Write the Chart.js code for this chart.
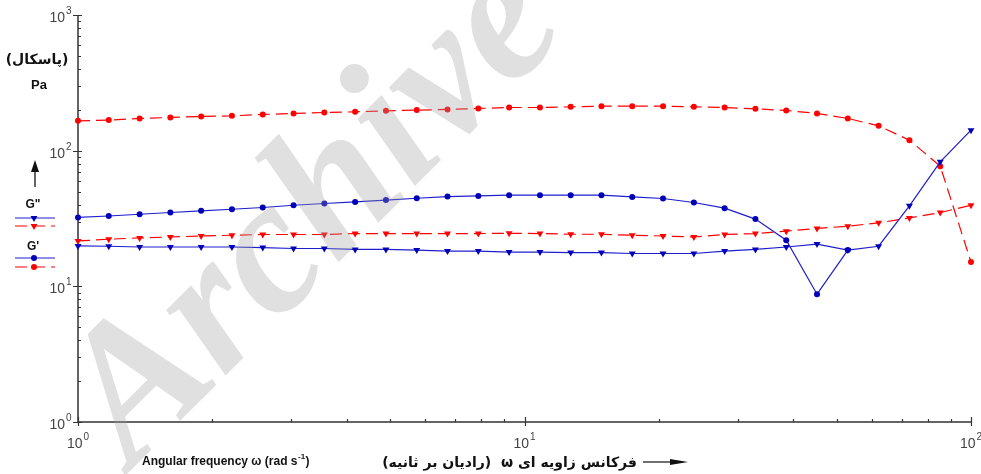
<!DOCTYPE html>
<html>
<head>
<meta charset="utf-8">
<script src="https://cdn.jsdelivr.net/npm/chart.js@4.4.0/dist/chart.umd.min.js"></script>
<style>
html, body { margin: 0; padding: 0; background: #fff; }
#wrap { position: relative; width: 981px; height: 474px; }
</style>
</head>
<body>
<div id="wrap"><canvas id="chart" width="981" height="474"></canvas></div>
<script>
// angular frequency (rad/s)
const freq = [1, 1.172, 1.374, 1.610, 1.887, 2.212, 2.593, 3.039, 3.562, 4.175,
    4.894, 5.736, 6.723, 7.880, 9.237, 10.83, 12.69, 14.87, 17.43, 20.43,
    23.95, 28.07, 32.90, 38.57, 45.20, 52.98, 62.10, 72.79, 85.32, 100];

// G' and G'' (Pa), blue = solid, red = dashed
const gPrimeBlue = [32.2, 33.0, 34.0, 35.0, 36.0, 37.0, 38.1, 39.6, 40.8, 41.9,
    43.2, 44.6, 45.9, 46.4, 47.0, 47.0, 47.0, 47.0, 45.6, 44.4,
    41.5, 37.7, 31.3, 21.9, 8.75, 18.5, null, null, null, null];
const gDoubleBlue = [19.86, 19.75, 19.5, 19.5, 19.5, 19.5, 19.3, 19.0, 19.0, 18.7,
    18.7, 18.5, 18.2, 18.2, 17.9, 17.9, 17.75, 17.75, 17.46, 17.46,
    17.46, 18.2, 18.7, 19.5, 20.5, 18.5, 19.75, 39.2, 82.7, 141.6];
const gPrimeRed = [165.9, 168, 172.8, 175.7, 178.7, 180.6, 184.9, 188, 191.2, 193.2,
    196.6, 199, 201.4, 204.7, 208, 208, 210.4, 212.9, 212.9, 212.9,
    210.4, 208, 203.4, 197.9, 188.1, 172.8, 152.4, 119.5, 76.9, 15.1];
const gDoubleRed = [21.6, 22.25, 22.75, 23.1, 23.5, 23.8, 24.1, 24.1, 24.1, 24.5,
    24.5, 24.5, 24.5, 24.5, 24.6, 24.5, 24.2, 24.2, 23.8, 23.5,
    23.1, 24.1, 24.5, 25.5, 26.7, 27.75, 29.4, 31.9, 35.0, 39.6];

const xTickValues = [1, 10, 100];
const yTickValues = [1, 10, 100, 1000];

const BLUE = 'rgb(30,30,205)';
const BLUE_PT = 'rgb(0,0,185)';
const RED = 'rgb(255,0,0)';

function toPoints(ys) {
    return freq.map((f, i) => ({ x: f, y: ys[i] }));
}

function series(label, ys, color, ptColor, dashed, style) {
    return {
        label: label,
        data: toPoints(ys),
        borderColor: color,
        backgroundColor: ptColor,
        pointBackgroundColor: ptColor,
        pointBorderColor: ptColor,
        pointBorderWidth: 0,
        pointStyle: style,
        pointRotation: style === 'triangle' ? 180 : 0,
        pointRadius: style === 'triangle' ? 4 : 3,
        borderWidth: 1.2,
        borderDash: dashed ? [12, 6] : [],
        tension: 0,
        clip: false,
        spanGaps: false
    };
}

function drawPow(ctx, exp, x, y, align) {
    ctx.font = '14px "Liberation Sans", Arial, sans-serif';
    const w1 = ctx.measureText('10').width;
    ctx.font = '10px "Liberation Sans", Arial, sans-serif';
    const w2 = ctx.measureText(String(exp)).width;
    let left = align === 'center' ? x - (w1 + w2 + 1) / 2 : x - w1;
    ctx.textAlign = 'left';
    ctx.font = '14px "Liberation Sans", Arial, sans-serif';
    ctx.fillText('10', left, y);
    ctx.font = '10px "Liberation Sans", Arial, sans-serif';
    ctx.fillText(String(exp), left + w1 + 1, y - 8);
}

const axesPlugin = {
    id: 'axes',
    beforeDatasetsDraw(chart) {
        const { ctx, chartArea: a, scales: { x, y } } = chart;
        ctx.save();
        ctx.strokeStyle = '#333';
        ctx.lineWidth = 1.5;
        ctx.beginPath();
        ctx.moveTo(a.left, a.top);
        ctx.lineTo(a.left, a.bottom);
        ctx.lineTo(a.right, a.bottom);
        ctx.stroke();

        ctx.lineWidth = 1.2;
        ctx.beginPath();
        for (let d = 0; d < 2; d++) {
            for (let m = 1; m < 10; m++) {
                const px = Math.round(x.getPixelForValue(m * Math.pow(10, d))) + 0.5;
                ctx.moveTo(px, a.bottom + (m === 1 ? 4 : 0));
                ctx.lineTo(px, a.bottom - (m === 1 ? 5 : 3));
            }
        }
        for (let d = 0; d < 3; d++) {
            for (let m = 1; m < 10; m++) {
                const py = Math.round(y.getPixelForValue(m * Math.pow(10, d))) + 0.5;
                ctx.moveTo(a.left - (m === 1 ? 5 : 0), py);
                ctx.lineTo(a.left + (m === 1 ? 4 : 3), py);
            }
        }
        const xEnd = Math.round(x.getPixelForValue(100)) + 0.5;
        ctx.moveTo(xEnd, a.bottom + 4); ctx.lineTo(xEnd, a.bottom - 5);
        const yEnd = Math.round(y.getPixelForValue(1000)) + 0.5;
        ctx.moveTo(a.left - 5, yEnd); ctx.lineTo(a.left + 4, yEnd);
        ctx.stroke();

        ctx.fillStyle = '#444';
        ctx.textBaseline = 'alphabetic';
        xTickValues.forEach(v => drawPow(ctx, Math.round(Math.log10(v)), x.getPixelForValue(v), a.bottom + 26, 'center'));
        yTickValues.forEach(v => drawPow(ctx, Math.round(Math.log10(v)), a.left - 13, y.getPixelForValue(v) + 7, 'right'));
        ctx.restore();
    },
    afterDraw(chart) {
        const ctx = chart.ctx;
        const sets = chart.data.datasets;
        ctx.save();
        ctx.fillStyle = '#111';
        ctx.textAlign = 'center';
        ctx.textBaseline = 'middle';

        // y-axis unit and arrow
        ctx.font = 'bold 14px "DejaVu Sans", sans-serif';
        ctx.direction = 'rtl';
        ctx.fillText('(پاسکال)', 37, 60);
        ctx.direction = 'ltr';
        ctx.font = 'bold 13px "Liberation Sans", Arial, sans-serif';
        ctx.fillText('Pa', 39, 85);
        ctx.strokeStyle = '#111';
        ctx.lineWidth = 1.3;
        ctx.beginPath(); ctx.moveTo(35, 187); ctx.lineTo(35, 170); ctx.stroke();
        ctx.beginPath(); ctx.moveTo(31, 172); ctx.lineTo(39, 172); ctx.lineTo(35, 160); ctx.closePath(); ctx.fill();

        // legend
        ctx.font = 'bold 12px "Liberation Sans", Arial, sans-serif';
        ctx.fillText('G"', 33, 205);
        ctx.fillText("G'", 33, 247);
        const rows = [[sets[1], 218], [sets[3], 226], [sets[0], 258], [sets[2], 267]];
        rows.forEach(([ds, ly]) => {
            ctx.strokeStyle = ds.borderColor;
            ctx.lineWidth = ds.borderWidth;
            ctx.setLineDash(ds.borderDash);
            ctx.beginPath(); ctx.moveTo(15, ly); ctx.lineTo(55, ly); ctx.stroke();
            ctx.setLineDash([]);
            ctx.fillStyle = ds.pointBackgroundColor;
            ctx.strokeStyle = ds.pointBorderColor;
            Chart.helpers.drawPoint(ctx, {
                pointStyle: ds.pointStyle, rotation: ds.pointRotation,
                radius: ds.pointRadius, borderWidth: 0
            }, 34, ly);
        });

        // x-axis titles
        ctx.fillStyle = '#111';
        ctx.textAlign = 'left';
        ctx.textBaseline = 'alphabetic';
        ctx.font = 'bold 12px "Liberation Sans", Arial, sans-serif';
        let tx = 142;
        const part1 = 'Angular frequency ω (rad s';
        ctx.fillText(part1, tx, 465);
        tx += ctx.measureText(part1).width;
        ctx.font = 'bold 8px "Liberation Sans", Arial, sans-serif';
        ctx.fillText('-1', tx + 0.5, 459);
        tx += ctx.measureText('-1').width + 1;
        ctx.font = 'bold 12px "Liberation Sans", Arial, sans-serif';
        ctx.fillText(')', tx, 465);

        ctx.font = 'bold 14px "DejaVu Sans", sans-serif';
        ctx.direction = 'rtl';
        ctx.textAlign = 'right';
        ctx.fillText('فرکانس زاویه ای ω  (رادیان بر ثانیه)', 637, 467);
        ctx.direction = 'ltr';
        ctx.strokeStyle = '#111';
        ctx.lineWidth = 1.2;
        ctx.beginPath(); ctx.moveTo(643, 462); ctx.lineTo(672, 462); ctx.stroke();
        ctx.beginPath(); ctx.moveTo(670, 459); ctx.lineTo(688, 462); ctx.lineTo(670, 465); ctx.closePath(); ctx.fill();

        // watermark
        ctx.translate(351, 250);
        ctx.rotate(-Math.PI / 4);
        ctx.textAlign = 'center';
        ctx.font = 'bold italic 192px "Liberation Serif", serif';
        ctx.fillStyle = 'rgba(160,160,160,0.32)';
        ctx.fillText('Archive', 0, 0);
        ctx.restore();
    }
};

new Chart(document.getElementById('chart'), {
    type: 'line',
    data: {
        datasets: [
            series("G' blue", gPrimeBlue, BLUE, BLUE_PT, false, 'circle'),
            series('G" blue', gDoubleBlue, BLUE, BLUE_PT, false, 'triangle'),
            series("G' red", gPrimeRed, RED, RED, true, 'circle'),
            series('G" red', gDoubleRed, RED, RED, true, 'triangle')
        ]
    },
    options: {
        responsive: false,
        animation: false,
        devicePixelRatio: 1,
        layout: { padding: { left: 78, right: 10, top: 15, bottom: 52 } },
        plugins: { legend: { display: false }, tooltip: { enabled: false } },
        scales: {
            x: { type: 'logarithmic', min: 1, max: 100, display: false },
            y: { type: 'logarithmic', min: 1, max: 1000, display: false }
        }
    },
    plugins: [axesPlugin]
});
</script>
</body>
</html>
